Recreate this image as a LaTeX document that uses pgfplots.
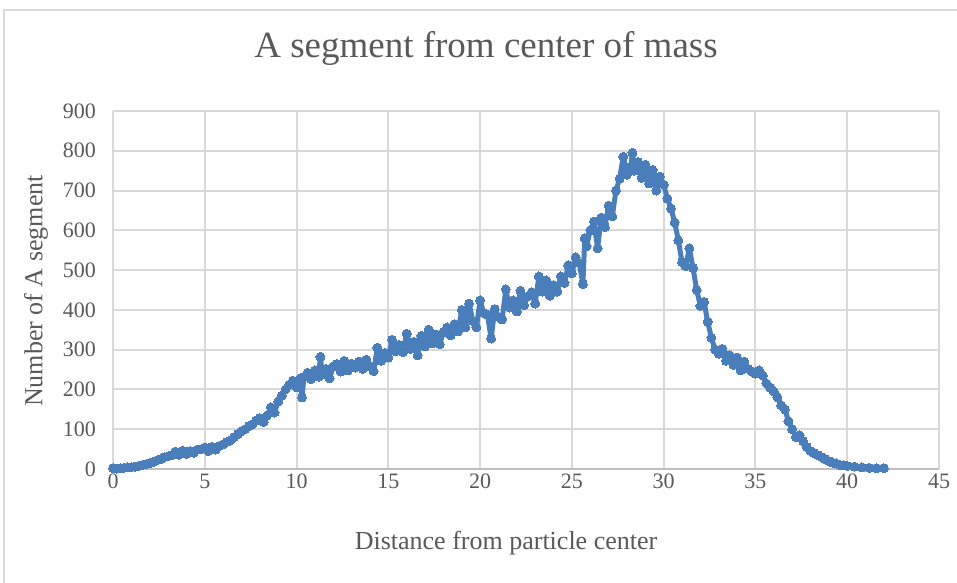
\documentclass[border=0pt]{standalone}
\usepackage{pgfplots}
\pgfplotsset{compat=1.18}
\usepackage{fontspec}
\setmainfont{Liberation Serif}
\definecolor{txt}{HTML}{595959}
\definecolor{gridc}{HTML}{D9D9D9}
\definecolor{axc}{HTML}{BFBFBF}
\definecolor{ser}{HTML}{4A7EBB}
\begin{document}
\begin{tikzpicture}[x=1pt,y=1pt]
\path[use as bounding box] (0,0) rectangle (957,582);
\draw[gridc, line width=2pt] (4,572) rectangle (990,-30);
\begin{axis}[
  at={(113pt,113pt)}, anchor=south west,
  scale only axis, width=826pt, height=358pt,
  xmin=0, xmax=45, ymin=0, ymax=900,
  xtick={0,5,...,45}, ytick={0,100,...,900},
  grid=major, major grid style={gridc, line width=2pt},
  axis line style={draw=none},
  major tick length=0pt,
  tick label style={font=\fontsize{22}{26}\selectfont, text=txt},
  /pgf/number format/assume math mode=true,
  yticklabel style={anchor=east, inner sep=0pt, xshift=-17pt},
  xticklabel style={anchor=north, inner sep=0pt, yshift=-5pt},
  clip=false,
]
\addplot[ser, line width=5pt, line join=round, line cap=round, mark=*, mark size=4.5pt, mark options={fill=ser, draw=ser, line width=0pt}] coordinates {
(0.0,2)(0.2,1)(0.4,2)(0.6,3)(0.8,4)(1.0,5)(1.2,6)(1.4,8)(1.6,10)(1.8,12)
(2.0,15)(2.2,18)(2.4,22)(2.6,25)(2.8,30)(3.0,32)(3.2,35)(3.4,44)(3.6,36)(3.8,46)
(4.0,38)(4.2,45)(4.4,41)(4.6,49)(4.8,50)(5.0,54)(5.2,45)(5.4,56)(5.6,49)(5.8,58)
(6.0,62)(6.2,68)(6.4,72)(6.6,80)(6.8,88)(7.0,95)(7.2,100)(7.4,108)(7.6,112)(7.8,122)
(8.0,128)(8.2,118)(8.4,135)(8.6,155)(8.8,142)(9.0,170)(9.2,185)(9.4,200)(9.6,212)(9.8,222)
(10.0,205)(10.2,228)(10.3,180)(10.4,232)(10.6,242)(10.8,226)(11.0,248)(11.2,232)(11.3,282)(11.4,238)
(11.6,252)(11.8,228)(12.0,258)(12.2,264)(12.4,245)(12.6,272)(12.8,248)(13.0,265)(13.2,255)(13.4,270)
(13.6,252)(13.8,275)(14.0,258)(14.2,246)(14.4,305)(14.6,272)(14.8,292)(15.0,280)(15.2,325)(15.4,296)
(15.6,312)(15.8,294)(16.0,340)(16.2,302)(16.4,320)(16.6,286)(16.8,335)(17.0,308)(17.2,350)(17.4,316)
(17.6,338)(17.8,314)(18.0,344)(18.2,356)(18.4,336)(18.6,364)(18.8,346)(19.0,400)(19.2,356)(19.4,416)
(19.6,372)(19.8,356)(20.0,424)(20.2,392)(20.4,388)(20.6,328)(20.8,402)(21.0,382)(21.2,376)(21.4,452)
(21.6,406)(21.8,424)(22.0,396)(22.2,448)(22.4,412)(22.6,434)(22.8,444)(23.0,416)(23.2,484)(23.4,446)
(23.6,474)(23.8,436)(24.0,462)(24.2,446)(24.4,484)(24.6,468)(24.8,512)(25.0,492)(25.2,532)(25.4,518)
(25.6,465)(25.7,580)(25.8,560)(26.0,600)(26.2,622)(26.4,555)(26.6,632)(26.8,608)(27.0,662)(27.2,635)
(27.4,700)(27.6,730)(27.8,785)(28.0,740)(28.2,760)(28.3,795)(28.4,750)(28.6,772)(28.8,732)(29.0,765)
(29.2,718)(29.4,752)(29.6,700)(29.8,735)(30.0,715)(30.2,680)(30.4,655)(30.6,620)(30.8,575)(31.0,520)
(31.2,510)(31.4,555)(31.6,505)(31.8,450)(32.0,410)(32.2,420)(32.4,370)(32.6,330)(32.8,300)(33.0,290)
(33.2,302)(33.4,272)(33.6,286)(33.8,262)(34.0,280)(34.2,248)(34.4,270)(34.6,252)(34.8,245)(35.0,240)
(35.2,248)(35.4,235)(35.6,215)(35.8,205)(36.0,195)(36.2,180)(36.4,160)(36.6,150)(36.8,120)(37.0,100)
(37.2,80)(37.4,85)(37.6,70)(37.8,55)(38.0,45)(38.2,40)(38.4,35)(38.6,30)(38.8,25)(39.0,20)
(39.2,16)(39.4,14)(39.6,10)(39.8,9)(40.0,8)(40.4,6)(40.8,4)(41.2,3)(41.6,2)(42.0,2)
};
\draw[axc, line width=2pt] (axis cs:0,0) -- (axis cs:45,0);
\end{axis}
\node[anchor=base, text=txt, font=\fontsize{37}{44}\selectfont, inner sep=0pt] at (486,524) {A segment from center of mass};
\node[anchor=base, text=txt, font=\fontsize{26}{31}\selectfont, inner sep=0pt] at (506,33) {Distance from particle center};
\node[rotate=90, text=txt, font=\fontsize{26}{31}\selectfont, inner sep=0pt] at (36,291) {Number of A segment};
\end{tikzpicture}
\end{document}
